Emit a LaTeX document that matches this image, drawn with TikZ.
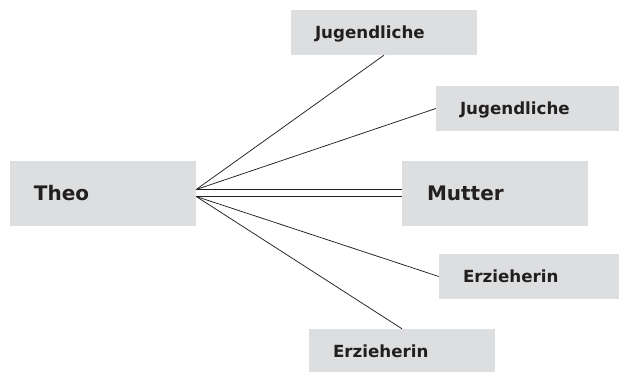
\documentclass[tikz,border=0pt]{standalone}
\usepackage{fontspec}
\setmainfont{DejaVu Sans}
\definecolor{boxgray}{RGB}{221,222,224}
\definecolor{ink}{RGB}{35,31,32}
\begin{document}
\begin{tikzpicture}[x=1pt,y=-1pt,
  labelbox/.style={fill=boxgray, text=ink, inner ysep=0pt, inner xsep=24pt,
    text width=138pt, align=left, text depth=0pt},
  smallbox/.style={labelbox, minimum height=45pt, text height=12.2pt,
    font=\fontsize{16.7}{18}\selectfont\bfseries},
  bigbox/.style={labelbox, minimum height=65pt, text height=14.6pt,
    font=\fontsize{20}{22}\selectfont\bfseries},
  tie/.style={draw=ink, line width=0.75pt}]
\useasboundingbox (0,0) rectangle (619,372);

% persons
\node[bigbox] (theo) at (103,193) {Theo};
\node[bigbox, inner xsep=25pt, text width=136pt] (mutter) at (495,193) {Mutter};
\node[smallbox] (jug1) at (384,32.5) {Jugendliche};
\node[smallbox] (jug2) at (529,108.5) {Jugendliche};
\node[smallbox] (erz1) at (532,276.5) {Erzieherin};
\node[smallbox] (erz2) at (402,351.5) {Erzieherin};

% start points of the two line bundles on Theo's right edge
\coordinate (tu) at ([yshift=3.5pt]theo.east);
\coordinate (td) at ([yshift=-3.5pt]theo.east);
\coordinate (mu) at ([yshift=3.5pt]mutter.west);
\coordinate (md) at ([yshift=-3.5pt]mutter.west);

% double tie to the mother
\draw[tie] (tu) -- (mu);
\draw[tie] (td) -- (md);

% single ties
\draw[tie] (tu) -- (jug1.south);
\draw[tie] (tu) -- (jug2.west);
\draw[tie] (td) -- (erz1.west);
\draw[tie] (td) -- (erz2.north);
\end{tikzpicture}
\end{document}
